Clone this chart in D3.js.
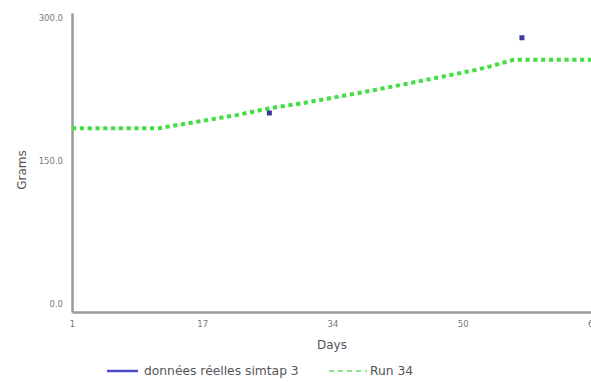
<!DOCTYPE html>
<html>
<head>
<meta charset="utf-8">
<script src="https://cdn.jsdelivr.net/npm/d3@7"></script>
<style>
  html, body { margin: 0; padding: 0; background: #fff; }
  svg { display: block; font-family: "DejaVu Sans", Verdana, sans-serif; }
</style>
</head>
<body>
<svg id="chart" width="591" height="382"></svg>
<script>
// Observed weights (données réelles simtap 3)
const realDays = [26, 58];
const realGrams = [200, 279];

// Simulated trajectory (Run 34)
const runDays  = [1, 12, 17, 22, 26, 30, 34, 38, 43, 46, 49, 52, 54, 57, 62, 67];
const runGrams = [184, 184, 191, 198, 205, 210, 216, 222, 230, 235, 240, 245, 249, 256, 256, 256];

const xTickValues = [1, 17.5, 34, 50.5, 67];
const xTickLabels = ["1", "17", "34", "50", "67"];
const yTickValues = [0, 150, 300];

const seriesNames = ["données réelles simtap 3", "Run 34"];

const svg = d3.select("#chart");

const x = d3.scaleLinear().domain([1, 67]).range([72, 593]);
const y = d3.scaleLinear().domain([-9, 305]).range([312, 13]);

// axes
const axisColor = "#9a9a9a";
const xAxis = svg.append("g")
  .attr("transform", `translate(0,${y(-9)})`)
  .call(d3.axisBottom(x).tickValues(xTickValues)
    .tickFormat((d, i) => xTickLabels[i]).tickSize(0).tickPadding(9));
const yAxis = svg.append("g")
  .attr("transform", `translate(${x(1)},0)`)
  .call(d3.axisLeft(y).tickValues(yTickValues)
    .tickFormat(d3.format(".1f")).tickSize(0).tickPadding(9));

[xAxis, yAxis].forEach(g => {
  g.select(".domain").attr("stroke", axisColor).attr("stroke-width", 2.5);
  g.selectAll("text").attr("fill", "#777").attr("font-size", 8.5)
    .attr("font-family", "DejaVu Sans, sans-serif");
});

// axis titles
svg.append("text")
  .attr("x", 332).attr("y", 349)
  .attr("text-anchor", "middle")
  .attr("font-size", 12).attr("fill", "#555")
  .text("Days");
svg.append("text")
  .attr("transform", `translate(26,170) rotate(-90)`)
  .attr("text-anchor", "middle")
  .attr("font-size", 12).attr("fill", "#555")
  .text("Grams");

// simulated run: thick dashed green line
const line = d3.line().x((d, i) => x(runDays[i])).y(d => y(d));
svg.append("path")
  .datum(runGrams)
  .attr("fill", "none")
  .attr("stroke", "#44dd44")
  .attr("stroke-width", 4)
  .attr("stroke-dasharray", "4.2,3.6")
  .attr("d", line);

// observed points
svg.selectAll("rect.obs")
  .data(realGrams)
  .enter().append("rect")
  .attr("class", "obs")
  .attr("x", (d, i) => x(realDays[i]) - 2.5)
  .attr("y", d => y(d) - 2.5)
  .attr("width", 5).attr("height", 5)
  .attr("fill", "#3a3a9a");

// legend
const leg = svg.append("g");
leg.append("line")
  .attr("x1", 107).attr("x2", 138).attr("y1", 371).attr("y2", 371)
  .attr("stroke", "#4848c8").attr("stroke-width", 2.5);
leg.append("text")
  .attr("x", 144).attr("y", 375)
  .attr("font-size", 12.3).attr("fill", "#555")
  .text(seriesNames[0]);
leg.append("line")
  .attr("x1", 329).attr("x2", 367).attr("y1", 371).attr("y2", 371)
  .attr("stroke", "#66dd66").attr("stroke-width", 1.5)
  .attr("stroke-dasharray", "5,4");
leg.append("text")
  .attr("x", 370).attr("y", 375)
  .attr("font-size", 12.3).attr("fill", "#555")
  .text(seriesNames[1]);
</script>
</body>
</html>
